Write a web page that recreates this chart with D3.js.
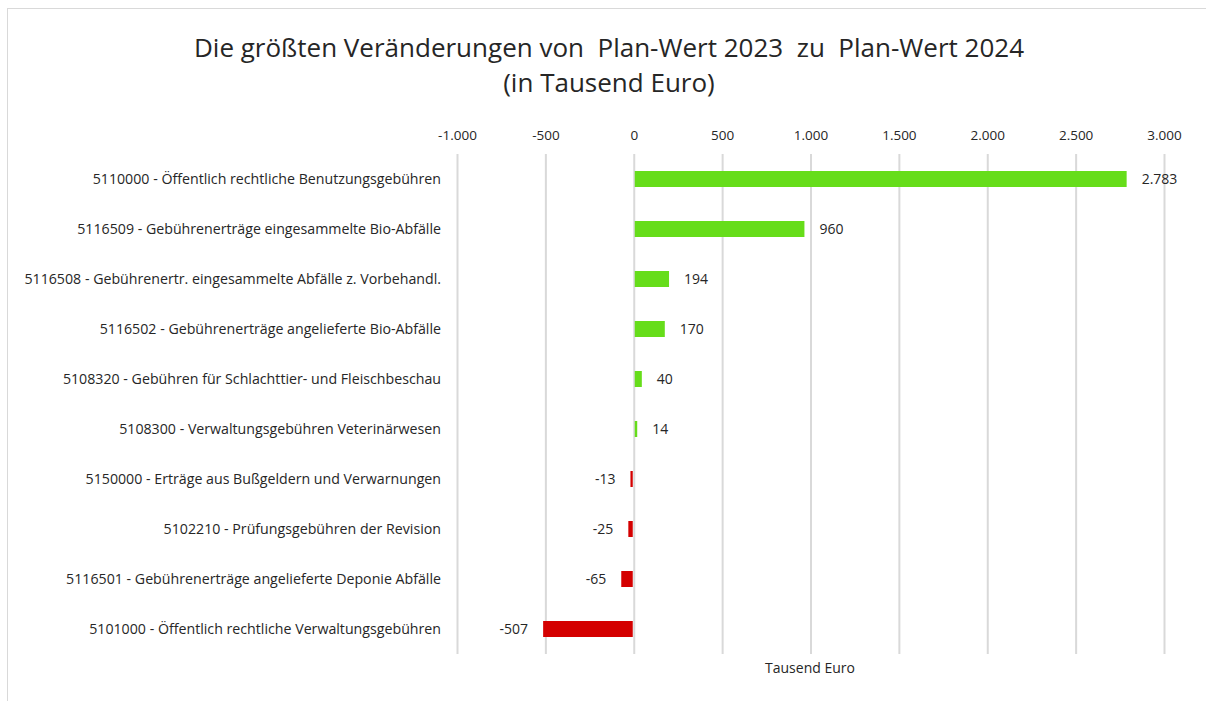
<!DOCTYPE html>
<html>
<head>
<meta charset="utf-8">
<script src="https://cdn.jsdelivr.net/npm/d3@7"></script>
<style>
  body { margin: 0; background: #fff; }
  text { font-family: "Open Sans", "Noto Sans", sans-serif; fill: #262626; }
</style>
</head>
<body>
<div id="chart"></div>
<script>
// Kategorien (Konten) und Veraenderungen in Tausend Euro
const kategorien = [
  "5110000 - Öffentlich rechtliche Benutzungsgebühren",
  "5116509 - Gebührenerträge eingesammelte Bio-Abfälle",
  "5116508 - Gebührenertr. eingesammelte Abfälle z. Vorbehandl.",
  "5116502 - Gebührenerträge angelieferte Bio-Abfälle",
  "5108320 - Gebühren für Schlachttier- und Fleischbeschau",
  "5108300 - Verwaltungsgebühren Veterinärwesen",
  "5150000 - Erträge aus Bußgeldern und Verwarnungen",
  "5102210 - Prüfungsgebühren der Revision",
  "5116501 - Gebührenerträge angelieferte Deponie Abfälle",
  "5101000 - Öffentlich rechtliche Verwaltungsgebühren"
];
const veraenderungen = [2783, 960, 194, 170, 40, 14, -13, -25, -65, -507];
const ticks = [-1000, -500, 0, 500, 1000, 1500, 2000, 2500, 3000];

const width = 1206, height = 701;
const fmt = d3.formatLocale({decimal: ",", thousands: ".", grouping: [3], currency: ["", "€"], minus: "-"}).format(",d");

const svg = d3.select("#chart").append("svg")
  .attr("width", width)
  .attr("height", height);

// Rahmen
svg.append("rect")
  .attr("x", 7.5).attr("y", 8.5)
  .attr("width", 1250).attr("height", 750)
  .attr("fill", "none")
  .attr("stroke", "#d9d9d9");

// Titel
svg.append("text")
  .attr("x", 609).attr("y", 57)
  .attr("text-anchor", "middle")
  .attr("xml:space", "preserve")
  .style("font-size", "26px")
  .text("Die größten Veränderungen von  Plan-Wert 2023  zu  Plan-Wert 2024");
svg.append("text")
  .attr("x", 609).attr("y", 92)
  .attr("text-anchor", "middle")
  .style("font-size", "26px")
  .text("(in Tausend Euro)");

const xScale = d3.scaleLinear()
  .domain([-1000, 3000])
  .range([457, 1164]);

const yScale = d3.scaleBand()
  .domain(kategorien)
  .range([154, 654])
  .paddingInner(0.68)
  .paddingOuter(0.34);

// Gitterlinien
svg.append("g")
  .attr("class", "grid")
  .attr("transform", "translate(0,154)")
  .call(d3.axisBottom(xScale).tickValues(ticks).tickSize(500).tickFormat(""))
  .call(g => g.select(".domain").remove())
  .call(g => g.selectAll("line").attr("stroke", "#d9d9d9").attr("stroke-width", 2));

// X-Achse oben
svg.append("g")
  .attr("transform", "translate(0,140)")
  .call(d3.axisTop(xScale).tickValues(ticks).tickSize(0).tickPadding(0).tickFormat(fmt))
  .call(g => g.select(".domain").remove())
  .selectAll("text")
    .style("font-size", "13.5px")
    .style("font-family", "'Open Sans', sans-serif")
    .attr("fill", "#262626");

// Y-Achse (Beschriftungen)
svg.append("g")
  .attr("transform", "translate(441,0)")
  .call(d3.axisLeft(yScale).tickSize(0).tickPadding(0))
  .call(g => g.select(".domain").remove())
  .selectAll("text")
    .style("font-size", "14.2px")
    .style("font-family", "'Open Sans', sans-serif")
    .attr("fill", "#262626");

// Balken
const barGroup = svg.selectAll(".bar")
  .data(veraenderungen)
  .enter()
  .append("g");

barGroup.append("rect")
  .attr("x", d => xScale(Math.min(0, d)) + (d > 0 ? 1 : -1))
  .attr("y", (d, i) => yScale(kategorien[i]))
  .attr("width", d => Math.abs(xScale(d) - xScale(0)))
  .attr("height", yScale.bandwidth())
  .attr("fill", d => d >= 0 ? "#66dd1a" : "#d40000");

barGroup.append("text")
  .attr("x", d => d >= 0 ? xScale(d) + 16 : xScale(d) - 16)
  .attr("y", (d, i) => yScale(kategorien[i]) + yScale.bandwidth() / 2)
  .attr("dy", "0.35em")
  .attr("text-anchor", d => d >= 0 ? "start" : "end")
  .style("font-size", "14px")
  .text(d => fmt(d));

// Achsentitel
svg.append("text")
  .attr("x", 810).attr("y", 673)
  .attr("text-anchor", "middle")
  .style("font-size", "14px")
  .text("Tausend Euro");
</script>
</body>
</html>
